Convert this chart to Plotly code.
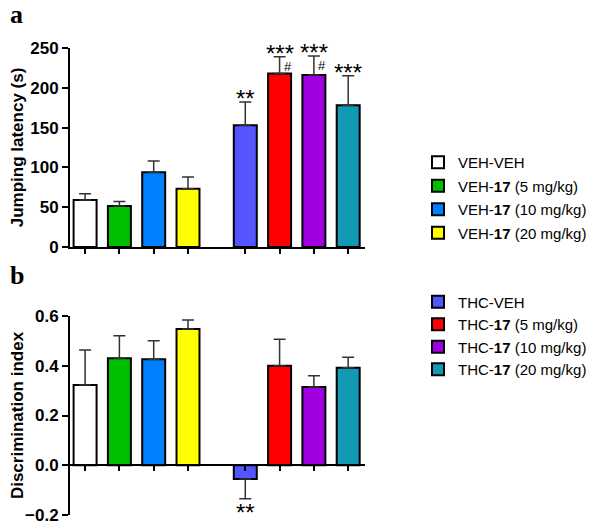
import plotly.graph_objects as go

# groups (legend labels), bar colours
groups = ["VEH-VEH", "VEH-<b>17</b> (5 mg/kg)", "VEH-<b>17</b> (10 mg/kg)", "VEH-<b>17</b> (20 mg/kg)",
          "THC-VEH", "THC-<b>17</b> (5 mg/kg)", "THC-<b>17</b> (10 mg/kg)", "THC-<b>17</b> (20 mg/kg)"]
colors = ["#FFFFFF", "#00BF00", "#0080FF", "#FFFF00", "#5555FF", "#FF0000", "#A000E0", "#1299B4"]

# panel a: jumping latency (s), mean and SEM
latency = [59, 51.5, 94, 73, 153, 218, 216, 178]
latency_sem = [8, 5.5, 14, 15, 29, 21, 24, 37]
latency_stars = ["", "", "", "", "**", "***", "***", "***"]
latency_hash = ["", "", "", "", "", "#", "#", ""]

# panel b: discrimination index, mean and SEM
disc = [0.323, 0.43, 0.426, 0.548, -0.055, 0.40, 0.315, 0.392]
disc_sem = [0.141, 0.091, 0.075, 0.036, 0.08, 0.107, 0.045, 0.042]
disc_stars = ["", "", "", "", "**", "", "", ""]

group_gap = 0.67   # extra space between VEH and THC groups
bar_w = 0.67
xpos = [i + (group_gap if i >= 4 else 0) for i in range(len(groups))]

font = "Liberation Sans, Arial, sans-serif"
serif = "Liberation Serif, Times New Roman, serif"
# page body adds an 8px margin, so the figure is drawn 8px smaller
W, H = 590, 515
fig = go.Figure()

for i, name in enumerate(groups):
    leg = "legend" if i < 4 else "legend2"
    # panel a
    fig.add_trace(go.Bar(
        x=[xpos[i]], y=[latency[i]], width=bar_w, name=name,
        marker=dict(color=colors[i], line=dict(color="black", width=2)),
        error_y=dict(type="data", symmetric=False, array=[latency_sem[i]], arrayminus=[0],
                     color="#333333", thickness=1.5, width=6),
        legend=leg, legendgroup=name, xaxis="x", yaxis="y"))
    # panel b
    up = disc_sem[i] if disc[i] >= 0 else 0
    down = disc_sem[i] if disc[i] < 0 else 0
    fig.add_trace(go.Bar(
        x=[xpos[i]], y=[disc[i]], width=bar_w, name=name, showlegend=False,
        marker=dict(color=colors[i], line=dict(color="black", width=2)),
        error_y=dict(type="data", symmetric=False, array=[up], arrayminus=[down],
                     color="#333333", thickness=1.5, width=6),
        legendgroup=name, xaxis="x2", yaxis="y2"))

star_font = dict(size=24, color="black", family=font)
annotations = []
for i in range(len(groups)):
    if latency_stars[i]:
        annotations.append(dict(x=xpos[i], y=latency[i] + latency_sem[i], xref="x", yref="y",
                                text=latency_stars[i], showarrow=False, yanchor="bottom",
                                yshift=-12, font=star_font))
    if latency_hash[i]:
        annotations.append(dict(x=xpos[i], y=latency[i] + latency_sem[i], xref="x", yref="y",
                                text=latency_hash[i], showarrow=False, yanchor="top",
                                xshift=8, yshift=0, font=dict(size=13, color="black", family=font)))
    if disc_stars[i]:
        annotations.append(dict(x=xpos[i], y=disc[i] - disc_sem[i], xref="x2", yref="y2",
                                text=disc_stars[i], showarrow=False, yanchor="top",
                                yshift=2, font=star_font))

# panel letters
for lbl, ypaper in [("a", 1.071), ("b", 0.512)]:
    annotations.append(dict(x=-0.18, y=ypaper, xref="paper", yref="paper", text="<b>%s</b>" % lbl,
                            showarrow=False, xanchor="center", yanchor="middle",
                            font=dict(size=26, family=serif, color="black")))

dom_b = 0.426
axis_common = dict(showline=True, linecolor="black", linewidth=2, ticks="outside",
                   tickcolor="black", tickwidth=2, showgrid=False, zeroline=False, automargin=False)
x_common = dict(axis_common, range=[-0.44, 8.16], tickvals=xpos, showticklabels=False, ticklen=5)
y_font = dict(size=17, family=font, color="black", weight="bold")

fig.update_layout(
    width=W, height=H,
    margin=dict(l=62, r=233, t=40, b=8),
    paper_bgcolor="white", plot_bgcolor="white",
    barmode="overlay", showlegend=True,
    font=dict(family=font, color="black"),
    xaxis=dict(x_common, domain=[0, 1], anchor="y"),
    yaxis=dict(axis_common, domain=[0.574, 1], range=[0, 250], tickvals=[0, 50, 100, 150, 200, 250],
               ticklen=6, tickfont=y_font, anchor="x", ticklabeloverflow="allow",
               title=dict(text="Jumping latency (s)", font=y_font, standoff=8)),
    xaxis2=dict(x_common, domain=[0, 1], anchor="free", position=dom_b * 0.2 / 0.8),
    yaxis2=dict(axis_common, domain=[0, dom_b], range=[-0.2, 0.6], tickvals=[-0.2, 0, 0.2, 0.4, 0.6],
                tickformat=".1f", ticklen=6, tickfont=y_font, anchor="x2", ticklabeloverflow="allow",
                title=dict(text="Discrimination index", font=y_font, standoff=8)),
    legend=dict(xref="container", yref="container", x=410 / W, y=1 - 138 / H, xanchor="left",
                yanchor="top", font=dict(size=15, family=font), tracegroupgap=1,
                bgcolor="rgba(0,0,0,0)"),
    legend2=dict(xref="container", yref="container", x=410 / W, y=1 - 277.5 / H, xanchor="left",
                 yanchor="top", font=dict(size=15, family=font), tracegroupgap=0,
                 bgcolor="rgba(0,0,0,0)"),
    annotations=annotations,
)

fig.write_html("out.html")
